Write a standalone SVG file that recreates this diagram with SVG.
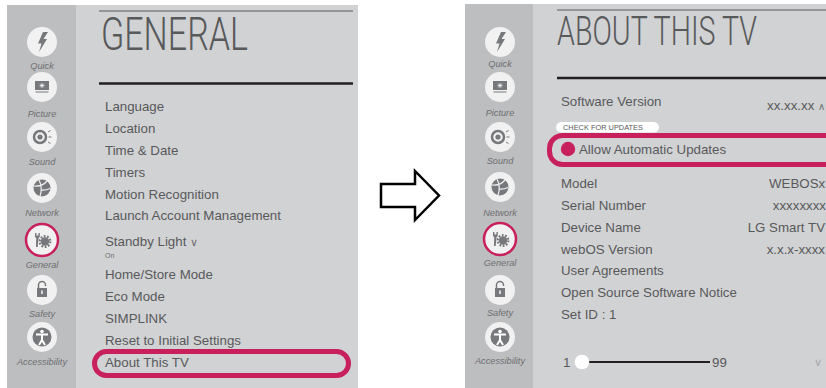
<svg xmlns="http://www.w3.org/2000/svg" xmlns:xlink="http://www.w3.org/1999/xlink" width="826" height="388" viewBox="0 0 826 388">
<style>
.side{fill:#BDBEC0}
.main{fill:#D1D2D4}
.lab{font-family:"Liberation Sans",Arial,sans-serif;font-style:italic;font-size:9.2px;fill:#6D6E71;text-anchor:middle}
.item{font-family:"Liberation Sans",Arial,sans-serif;font-size:13.3px;fill:#58595B}
.small{font-family:"Liberation Sans",Arial,sans-serif;font-size:7px;fill:#6D6E71}
.val{font-family:"Liberation Sans",Arial,sans-serif;font-size:13.3px;fill:#58595B;text-anchor:end}
.title{font-family:Roboto,"Liberation Sans",sans-serif;font-weight:300;fill:#58595B}
.sym{font-family:"DejaVu Sans",sans-serif;font-weight:200;fill:#6D6E71}
.symlt{font-family:"DejaVu Sans",sans-serif;font-weight:200;fill:#A7A9AC;font-size:11px}
.disc{fill:#F1F1F2}
.ic{fill:#77787B}
.icl{fill:none;stroke:#77787B}
.hl{fill:none;stroke:#C8205C;stroke-width:5}
.ring{fill:#F1F1F2;stroke:#C8205C;stroke-width:2.5}
</style>
<defs>
<g id="ic-quick">
<circle class="disc" r="15"/>
<path class="ic" d="M1 -10 L6 -10 L1.5 -3 L5 -3 L-3 10 L-0.5 1.5 L-4 1.5 Z"/>
</g>
<g id="ic-picture">
<circle class="disc" r="15"/>
<rect class="ic" x="-7" y="-6" width="14" height="9"/>
<path d="M0 -4 V1 M-2.5 -1.5 H2.5 M-1.8 -3.3 L1.8 0.3 M1.8 -3.3 L-1.8 0.3" stroke="#fff" stroke-width="0.7"/>
<rect class="ic" x="-6.5" y="4.5" width="13" height="1"/>
</g>
<g id="ic-sound">
<circle class="disc" r="15"/>
<circle class="icl" cx="-2" r="6" stroke-width="2.5"/>
<circle class="ic" cx="-2" r="2.6"/>
<path class="icl" stroke-width="1" d="M6 -5 L8.5 -6.5 M6.5 0 H9.5 M6 5 L8.5 6.5"/>
</g>
<g id="ic-network">
<circle class="disc" r="15"/>
<circle class="ic" r="8.5"/>
<path d="M-8 -2 Q0 -1 5 -7 M-3 -8 Q1 0 -2 8.3 M-1 2 Q4 2.5 8 0.5" fill="none" stroke="#F1F1F2" stroke-width="1.2"/>
</g>
<g id="ic-general">
<circle class="ring" r="16"/>
<path class="ic" d="M-7 -7 L-5.6 -7 L-5.6 -4.5 L-3.6 -4.5 L-3.6 -7 L-2.2 -7 L-2.2 -3 L-3.4 -2 L-4.3 7 L-6 7 L-5.8 -2 L-7 -3 Z"/>
<circle class="ic" cx="3" cy="1.5" r="4.2"/>
<circle class="icl" cx="3" cy="1.5" r="5.3" stroke-width="2.2" stroke-dasharray="1.8 1.5"/>
</g>
<g id="ic-safety">
<circle class="disc" r="15"/>
<path class="icl" stroke-width="1.5" d="M-3.5 -2 V-5 A3.5 3.5 0 0 1 3.5 -5 V-4"/>
<rect class="ic" x="-5" y="-2" width="10" height="9"/>
<rect x="-0.8" y="0.5" width="1.6" height="3.5" fill="#F1F1F2"/>
</g>
<g id="ic-access">
<circle class="disc" r="15"/>
<circle class="ic" r="9.5"/>
<circle cx="0" cy="-5.5" r="1.8" fill="#fff"/>
<path d="M-6 -2.5 H6 M0 -2.5 V3 M0 3 L-3 8 M0 3 L3 8" fill="none" stroke="#fff" stroke-width="2"/>
</g>
</defs>

<!-- LEFT SCREEN -->
<g id="left-screen">
<rect class="side" x="7" y="5" width="69" height="383"/>
<rect class="main" x="76" y="5" width="282" height="383"/>
</g>
<g id="left-sidebar">
<g id="l-quick"><use xlink:href="#ic-quick" x="42" y="42"/><text class="lab" x="42" y="69">Quick</text></g>
<g id="l-picture"><use xlink:href="#ic-picture" x="42" y="87"/><text class="lab" x="42" y="117">Picture</text></g>
<g id="l-sound"><use xlink:href="#ic-sound" x="42" y="137"/><text class="lab" x="42" y="165">Sound</text></g>
<g id="l-network"><use xlink:href="#ic-network" x="42" y="188"/><text class="lab" x="42" y="216">Network</text></g>
<g id="l-general"><use xlink:href="#ic-general" x="42" y="240"/><text class="lab" x="42" y="268">General</text></g>
<g id="l-safety"><use xlink:href="#ic-safety" x="42" y="290"/><text class="lab" x="42" y="317">Safety</text></g>
<g id="l-access"><use xlink:href="#ic-access" x="42" y="337"/><text class="lab" x="42" y="365">Accessibility</text></g>
</g>
<g id="left-menu">
<line x1="99" y1="11" x2="353" y2="11" stroke="#58595B" stroke-width="1.2"/>
<text class="title" transform="translate(101 50) scale(0.74 1)" x="0" y="0" font-size="46" textLength="198.6" lengthAdjust="spacingAndGlyphs">GENERAL</text>
<line x1="99" y1="83.5" x2="353" y2="83.5" stroke="#231F20" stroke-width="2.5"/>
<text class="item" x="105" y="111">Language</text>
<text class="item" x="105" y="133">Location</text>
<text class="item" x="105" y="155">Time &amp; Date</text>
<text class="item" x="105" y="177">Timers</text>
<text class="item" x="105" y="199">Motion Recognition</text>
<text class="item" x="105" y="220">Launch Account Management</text>
<text class="item" x="105" y="246">Standby Light <tspan class="sym" font-size="11">∨</tspan></text>
<text class="small" x="105" y="258">On</text>
<text class="item" x="105" y="279">Home/Store Mode</text>
<text class="item" x="105" y="301">Eco Mode</text>
<text class="item" x="105" y="323">SIMPLINK</text>
<text class="item" x="105" y="345">Reset to Initial Settings</text>
<text class="item" x="105" y="367">About This TV</text>
<rect id="l-highlight" class="hl" x="94.5" y="351.5" width="254" height="24" rx="12"/>
</g>

<!-- CONNECTOR -->
<g id="connectors">
<path id="arrow" d="M381 184 H415 V171 L439 195.5 L415 220 V207 H381 Z" fill="#fff" stroke="#000" stroke-width="2.5" stroke-linejoin="miter"/>
</g>

<!-- RIGHT SCREEN -->
<g id="right-screen">
<rect class="side" x="465" y="4" width="68" height="384"/>
<rect class="main" x="533" y="4" width="293" height="384"/>
</g>
<g id="right-sidebar">
<g id="r-quick"><use xlink:href="#ic-quick" x="500" y="42"/><text class="lab" x="500" y="67">Quick</text></g>
<g id="r-picture"><use xlink:href="#ic-picture" x="500" y="87"/><text class="lab" x="500" y="116">Picture</text></g>
<g id="r-sound"><use xlink:href="#ic-sound" x="500" y="137"/><text class="lab" x="500" y="164">Sound</text></g>
<g id="r-network"><use xlink:href="#ic-network" x="500" y="187"/><text class="lab" x="500" y="216">Network</text></g>
<g id="r-general"><use xlink:href="#ic-general" x="500" y="239"/><text class="lab" x="500" y="266">General</text></g>
<g id="r-safety"><use xlink:href="#ic-safety" x="500" y="290"/><text class="lab" x="500" y="316">Safety</text></g>
<g id="r-access"><use xlink:href="#ic-access" x="500" y="337"/><text class="lab" x="500" y="364">Accessibility</text></g>
</g>
<g id="right-menu">
<line x1="557" y1="10" x2="826" y2="10" stroke="#58595B" stroke-width="1.2"/>
<text class="title" transform="translate(557 45) scale(0.7 1)" x="0" y="0" font-size="40" textLength="285.7" lengthAdjust="spacingAndGlyphs">ABOUT THIS TV</text>
<line x1="557" y1="78" x2="826" y2="78" stroke="#231F20" stroke-width="2.5"/>
<text class="item" x="561" y="106">Software Version</text>
<text class="val" x="825" y="110">xx.xx.xx <tspan class="sym" font-size="10">∧</tspan></text>
<rect x="556" y="122" width="103" height="10.5" rx="5.2" fill="#fff"/>
<text x="563" y="130.2" font-family="'Liberation Sans',Arial,sans-serif" font-size="7.4" fill="#58595B">CHECK FOR UPDATES</text>
<circle cx="568" cy="149" r="7.2" fill="#C8205C"/>
<text class="item" x="579" y="154">Allow Automatic Updates</text>
<rect id="r-highlight" class="hl" x="549.5" y="135.5" width="300" height="29" rx="13"/>
<text class="item" x="561" y="188">Model</text>
<text class="item" x="769" y="188">WEBOSx</text>
<text class="item" x="561" y="210">Serial Number</text>
<text class="val" x="826" y="210">xxxxxxxx</text>
<text class="item" x="561" y="232">Device Name</text>
<text class="val" x="825" y="232">LG Smart TV</text>
<text class="item" x="561" y="254">webOS Version</text>
<text class="val" x="825" y="254">x.x.x-xxxx</text>
<text class="item" x="561" y="275">User Agreements</text>
<text class="item" x="561" y="297">Open Source Software Notice</text>
<text class="item" x="561" y="319">Set ID : 1</text>
<text class="item" x="563" y="367">1</text>
<line x1="582" y1="362" x2="710" y2="362" stroke="#231F20" stroke-width="2"/>
<circle cx="582" cy="362" r="7.3" fill="#fff"/>
<text class="item" x="712" y="367">99</text>
<text class="symlt" x="814" y="366">∨</text>
</g>
</svg>
